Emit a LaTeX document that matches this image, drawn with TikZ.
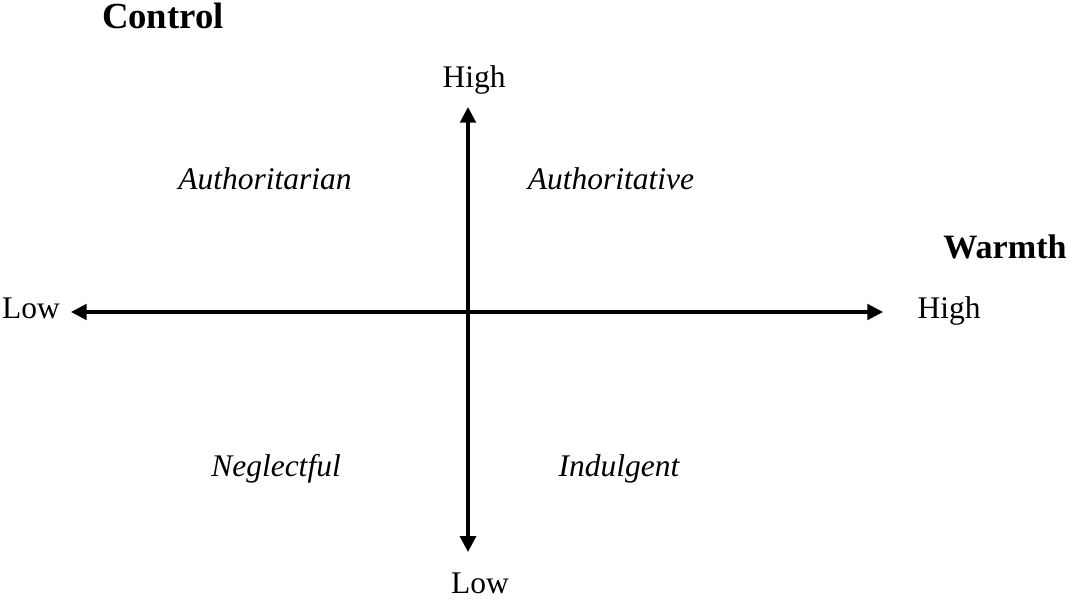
\documentclass[tikz,border=0pt]{standalone}
\usepackage{fontspec}
\setmainfont{Liberation Serif}
\usetikzlibrary{arrows.meta,positioning}

\begin{document}
\begin{tikzpicture}[x=0.381pt,y=-0.381pt,
        axis/.style={line width=1.2pt,{Triangle[length=6pt,width=6pt]}-{Triangle[length=6pt,width=6pt]}},
        lbl/.style={inner sep=0pt,anchor=base,font=\fontsize{12}{14}\selectfont},
        style quad/.style={lbl,font=\fontsize{12}{14}\selectfont\itshape},
        dim/.style={inner sep=0pt,anchor=base,font=\fontsize{14}{16}\selectfont\bfseries}]
                \useasboundingbox (0,0) rectangle (1075,600);

                \coordinate (o) at (468,312);
                \coordinate (w_lo) at (71,312);
                \coordinate (w_hi) at (883,312);
                \coordinate (c_hi) at (468,107);
                \coordinate (c_lo) at (468,552);

                \node[dim] (control) at (163,29) {Control};
                \node[dim,font=\fontsize{13}{15}\selectfont\bfseries] (warmth) at (1005,259) {Warmth};

                \node[lbl] (c_high) at (474,88) {High};
                \node[lbl] (c_low)  at (480,594) {Low};
                \node[lbl] (w_low)  at (31,319) {Low};
                \node[lbl] (w_high) at (949,319) {High};

                \node[style quad] (q_tl) at (265,190) {Authoritarian};
                \node[style quad] (q_tr) at (611,190) {Authoritative};
                \node[style quad] (q_bl) at (276,477) {Neglectful};
                \node[style quad] (q_br) at (619,477) {Indulgent};

                \draw[axis] (w_lo) -- (w_hi);
                \draw[axis] (c_lo) -- (c_hi);

            \end{tikzpicture}
\end{document}
